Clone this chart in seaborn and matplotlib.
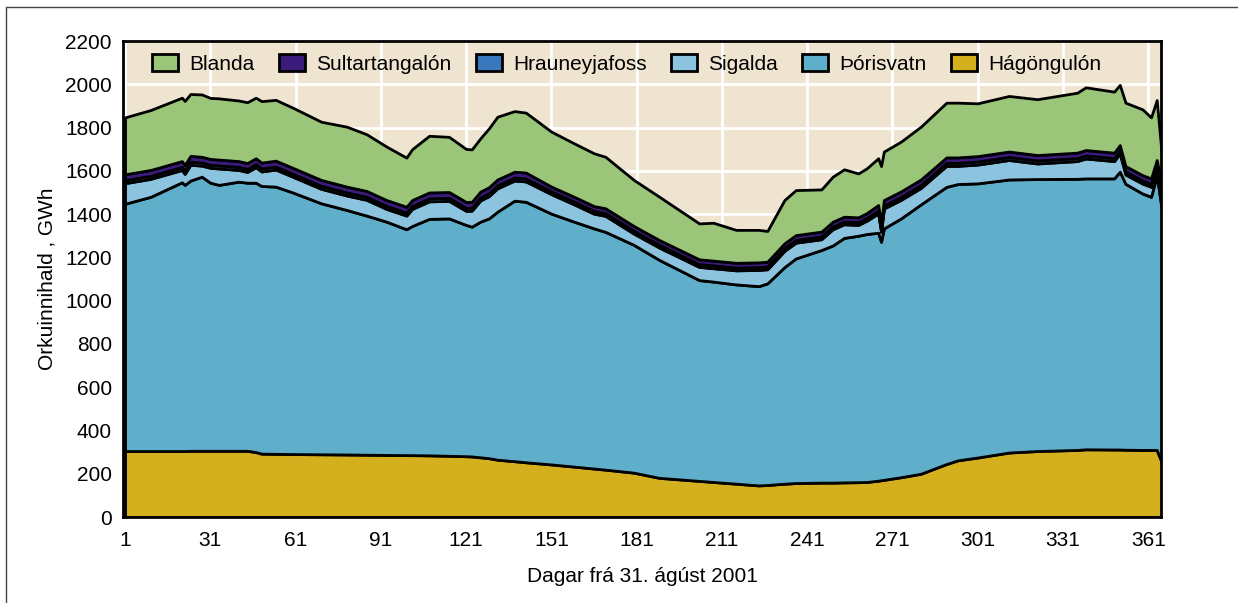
import matplotlib
matplotlib.use('Agg')
import matplotlib.pyplot as plt
import seaborn as sns
from matplotlib.lines import Line2D

# days from 31 Aug 2001
days = [1, 10, 21, 22, 24, 28, 31, 34, 41, 44, 47, 49, 54, 60, 70, 79, 86, 93,
        100, 102, 108, 115, 121, 123, 126, 129, 132, 138, 142, 151, 159, 166,
        170, 180, 189, 203, 208, 216, 224, 227, 233, 237, 246, 250, 254, 259,
        262, 266, 267, 268, 274, 281, 290, 294, 301, 312, 322, 336, 339, 349,
        351, 353, 359, 362, 364, 366]

# energy content, GWh, per reservoir (stacked bottom -> top)
hagongulon = [305, 305, 305, 305, 306, 306, 306, 306, 306, 306, 300, 293, 292, 291,
              290, 289, 288, 287, 286, 286, 285, 283, 281, 280, 276, 272, 265, 258,
              253, 243, 233, 224, 219, 205, 181, 167, 162, 154, 146, 148, 154, 157,
              159, 159, 160, 161, 162, 168, 170, 172, 184, 200, 245, 262, 275, 298,
              305, 310, 313, 312, 312, 311, 310, 310, 310, 245]
thorisvatn = [1143, 1175, 1242, 1230, 1249, 1267, 1239, 1229, 1244, 1239, 1245, 1237,
              1235, 1209, 1160, 1130, 1105, 1078, 1044, 1059, 1093, 1097, 1069, 1062,
              1089, 1108, 1146, 1204, 1204, 1159, 1132, 1110, 1099, 1053, 1007, 928,
              926, 921, 921, 932, 1001, 1038, 1075, 1096, 1130, 1139, 1146, 1146, 1102,
              1162, 1196, 1245, 1281, 1277, 1267, 1262, 1257, 1253, 1252, 1253, 1284,
              1229, 1185, 1170, 1271, 1155]
sigalda = [95, 83, 57, 51, 73, 51, 69, 76, 54, 50, 72, 67, 79, 73, 67, 67, 73, 59,
           63, 79, 81, 81, 65, 74, 98, 103, 108, 93, 94, 90, 80, 68, 74, 52, 57, 61,
           62, 65, 75, 65, 75, 73, 50, 75, 63, 50, 62, 89, 46, 92, 86, 76, 97, 84,
           87, 90, 72, 82, 92, 80, 84, 43, 46, 46, 30, 81]
hrauneyjafoss = [14] * 29 + [13] * 18 + [14] * 19
sultartangalon = [27] * 29 + [22] * 18 + [25] * 19
blanda = [263, 277, 293, 296, 286, 288, 282, 283, 280, 281, 280, 284, 281, 278,
          269, 277, 262, 247, 227, 235, 262, 255, 245, 242, 246, 272, 290, 280,
          277, 254, 247, 244, 238, 213, 200, 166, 175, 152, 150, 142, 200, 208,
          195, 208, 219, 203, 207, 216, 265, 224, 230, 244, 253, 253, 244, 257,
          258, 277, 290, 282, 278, 293, 304, 282, 277, 120]

names = ['Hágöngulón', 'Þórisvatn', 'Sigalda', 'Hrauneyjafoss', 'Sultartangalón', 'Blanda']
colors = ['#D4AF1E', '#5FAFCB', '#8CC4E0', '#3A78BE', '#3A1A7A', '#9BC67A']

sns.set_theme(style='darkgrid', rc={
    'axes.facecolor': '#EFE4D0',
    'grid.color': 'white',
    'grid.linewidth': 2,
    'axes.edgecolor': 'black',
    'axes.linewidth': 2,
    'text.color': 'black',
    'axes.labelcolor': 'black',
    'xtick.color': 'black',
    'ytick.color': 'black',
})
plt.rcParams['font.family'] = ['Liberation Sans', 'DejaVu Sans']

fs = 15
fig = plt.figure(figsize=(12.38, 6.03), dpi=100)
ax = fig.add_axes([0.0994, 0.1426, 0.8384, 0.7894])

polys = ax.stackplot(days, hagongulon, thorisvatn, sigalda, hrauneyjafoss,
                     sultartangalon, blanda, labels=names, colors=colors,
                     edgecolor='black', linewidth=2)

ax.set_xlim(0.3, 365.5)
ax.set_ylim(0, 2200)
ax.set_xticks(range(1, 362, 30))
ax.set_yticks(range(0, 2201, 200))
ax.tick_params(axis='both', length=0, labelsize=fs, colors='black')
ax.tick_params(axis='y', pad=8)
ax.tick_params(axis='x', pad=10)
ax.set_xlabel('Dagar frá 31. ágúst 2001', fontsize=fs, labelpad=12)
ax.set_ylabel('Orkuinnihald , GWh', fontsize=fs, labelpad=6)
for s in ax.spines.values():
    s.set_visible(True)
    s.set_color('black')
    s.set_linewidth(2)

handles = polys[::-1]
ax.legend(handles, names[::-1], loc='upper left', ncol=6, frameon=False,
          fontsize=fs, handlelength=1.25, handleheight=0.85, columnspacing=1.15,
          handletextpad=0.55, borderaxespad=0, bbox_to_anchor=(0.02, 0.99))

# thin frame around the figure (top and left)
fig.add_artist(Line2D([6 / 1238, 1], [1 - 7 / 603, 1 - 7 / 603], color='#444444', lw=1))
fig.add_artist(Line2D([6 / 1238, 6 / 1238], [0, 1 - 7 / 603], color='#444444', lw=1))

fig.savefig('out.png', dpi=100)
